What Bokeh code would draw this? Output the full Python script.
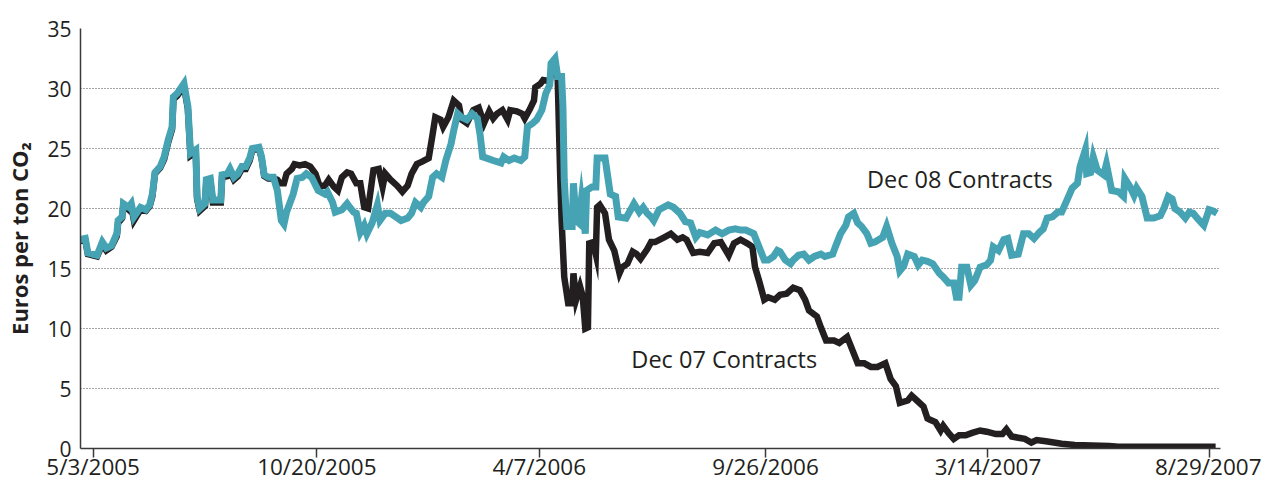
from bokeh.plotting import figure
from bokeh.models import Range1d, FixedTicker, Label
from bokeh.embed import file_html
from bokeh.resources import INLINE

# x values: calendar days after 5/3/2005
dec08_days = [-10, -6, -4, 3, 7, 10, 14, 18, 19, 22, 23, 27, 29, 31, 36, 40, 43, 45, 47, 51,
              54, 57, 60, 61, 64, 69, 72, 74, 78, 79, 81, 85, 86, 89, 91, 97, 98, 102, 104, 107,
              110, 113, 116, 119, 121, 126, 128, 130, 133, 137, 140, 143, 145, 147, 152, 155, 159, 162, 166, 171,
              176, 178, 182, 184, 189, 193, 195, 198, 200, 203, 206, 208, 212, 216, 218, 222, 226, 230, 234, 239,
              242, 245, 249, 251, 255, 258, 261, 265, 268, 272, 274, 277, 280, 284, 288, 292, 294, 296, 299, 304,
              310, 312, 316, 320, 325, 328, 330, 334, 337, 341, 344, 347, 348, 351, 353, 356, 357, 358, 360, 364,
              365, 367, 369, 371, 374, 375, 379, 382, 383, 389, 393, 397, 399, 405, 407, 411, 415, 418, 421, 424,
              426, 430, 437, 441, 446, 450, 454, 458, 461, 467, 473, 478, 483, 488, 492, 496, 502, 506, 510, 513,
              517, 520, 522, 526, 530, 532, 536, 540, 544, 548, 553, 556, 562, 564, 568, 572, 574, 578, 581, 584,
              588, 591, 594, 600, 603, 607, 611, 613, 616, 619, 624, 627, 630, 634, 638, 643, 646, 650, 654, 656,
              658, 660, 664, 667, 670, 674, 679, 682, 684, 688, 692, 695, 698, 703, 707, 711, 715, 719, 722, 725,
              729, 733, 736, 740, 744, 748, 750, 754, 755, 758, 760, 763, 768, 770, 774, 779, 783, 784, 788, 791,
              793, 797, 801, 806, 811, 814, 817, 820, 822, 826, 830, 833, 836, 839, 844, 848, 851, 854]
dec08_price = [17.4, 17.5, 16.3, 16.1, 17.2, 16.7, 16.9, 17.9, 19.0, 19.3, 20.4, 20.1, 20.4, 19.3, 20.1, 19.9, 20.3, 21.2, 23.0, 23.5,
               24.3, 25.7, 26.8, 29.3, 29.6, 30.4, 28.5, 24.6, 24.9, 21.0, 20.0, 20.4, 22.4, 22.5, 20.7, 20.7, 22.8, 22.9, 23.3, 22.6,
               22.9, 23.5, 23.5, 24.2, 25.0, 25.1, 24.3, 22.8, 22.6, 22.6, 21.5, 19.0, 18.7, 19.7, 21.2, 22.5, 22.6, 22.9, 22.6, 21.5,
               21.2, 21.4, 20.5, 19.7, 19.9, 20.4, 20.1, 19.7, 19.6, 18.0, 18.6, 17.9, 18.8, 20.3, 19.0, 19.6, 19.6, 19.3, 19.0, 19.2,
               19.6, 20.5, 20.1, 20.5, 21.0, 22.6, 22.9, 22.6, 24.0, 25.4, 26.5, 27.9, 27.6, 27.4, 27.9, 27.5, 26.2, 24.3, 24.2, 24.0,
               23.8, 24.3, 24.0, 24.2, 24.0, 24.3, 26.8, 27.1, 27.4, 28.2, 29.6, 30.3, 32.1, 32.5, 31.0, 31.0, 28.5, 22.4, 18.5, 18.5,
               22.1, 19.0, 18.8, 20.7, 17.9, 21.5, 21.8, 21.8, 24.2, 24.2, 21.2, 21.0, 19.3, 19.2, 19.6, 20.4, 19.7, 20.1, 19.6, 19.3,
               19.0, 19.9, 20.3, 20.1, 19.6, 18.9, 18.8, 17.6, 18.0, 17.8, 18.2, 17.9, 18.2, 18.3, 18.2, 18.2, 17.9, 16.8, 15.7, 15.7,
               16.0, 16.5, 16.4, 15.7, 15.4, 15.7, 16.1, 16.2, 15.7, 16.0, 16.2, 16.0, 16.2, 16.8, 17.9, 18.6, 19.3, 19.6, 18.8, 18.5,
               17.9, 17.1, 17.2, 17.6, 18.5, 17.1, 16.0, 14.8, 15.2, 16.2, 16.0, 15.3, 15.7, 15.6, 15.4, 14.6, 14.3, 13.8, 13.8, 12.6,
               12.6, 15.1, 15.1, 13.6, 14.0, 15.1, 15.3, 15.7, 16.8, 16.5, 17.4, 17.5, 16.1, 16.2, 17.9, 17.9, 17.5, 18.0, 18.3, 19.2,
               19.3, 19.7, 19.7, 20.7, 21.7, 22.1, 23.5, 24.9, 22.9, 23.0, 24.3, 23.2, 22.8, 23.7, 21.5, 21.4, 21.0, 22.5, 21.8, 21.1,
               21.7, 21.0, 19.2, 19.2, 19.4, 20.1, 21.0, 20.8, 20.0, 19.7, 19.2, 19.7, 19.6, 19.2, 18.6, 19.9, 19.8, 19.6]

dec07_days = [-10, -6, -4, 3, 7, 10, 14, 18, 19, 22, 23, 27, 29, 31, 36, 40, 43, 45, 47, 51,
              54, 57, 60, 61, 64, 69, 72, 74, 78, 79, 81, 85, 86, 89, 91, 97, 98, 102, 104, 107,
              110, 113, 116, 119, 121, 126, 128, 130, 133, 137, 140, 142, 145, 147, 151, 153, 157, 161, 165, 169,
              172, 176, 179, 183, 186, 189, 193, 196, 200, 203, 206, 209, 213, 217, 220, 222, 226, 231, 235, 239,
              242, 246, 250, 255, 258, 260, 264, 266, 270, 274, 278, 280, 284, 289, 293, 297, 301, 304, 307, 311,
              315, 317, 322, 326, 328, 332, 335, 336, 340, 342, 347, 349, 351, 353, 355, 356, 358, 361, 364, 365,
              367, 370, 372, 374, 376, 377, 380, 382, 383, 385, 389, 392, 396, 400, 402, 406, 410, 413, 416, 421,
              424, 427, 434, 439, 444, 448, 451, 456, 461, 467, 472, 477, 483, 487, 492, 497, 501, 503, 506, 510,
              513, 518, 522, 527, 532, 537, 541, 544, 550, 553, 557, 563, 567, 573, 577, 581, 586, 591, 596, 602,
              606, 610, 613, 619, 622, 626, 631, 634, 636, 640, 644, 646, 650, 654, 658, 663, 668, 674, 679, 686,
              691, 694, 698, 703, 708, 713, 717, 724, 730, 736, 746, 759, 772, 779, 797, 815, 835, 853]
dec07_price = [17.3, 17.4, 16.2, 16.0, 17.0, 16.5, 16.8, 17.7, 18.8, 19.2, 20.3, 19.9, 20.2, 19.0, 19.9, 19.8, 20.2, 21.0, 22.9, 23.4,
               24.1, 25.5, 26.6, 29.1, 29.4, 30.2, 28.3, 24.4, 24.7, 20.8, 19.8, 20.2, 22.2, 22.3, 20.5, 20.5, 22.6, 22.7, 23.1, 22.4,
               22.7, 23.3, 23.3, 24.0, 24.9, 25.0, 24.2, 22.7, 22.5, 22.5, 22.4, 22.1, 22.1, 22.9, 23.3, 23.7, 23.6, 23.7, 23.5, 22.9,
               21.9, 21.9, 22.4, 21.8, 21.5, 22.6, 23.0, 22.9, 22.1, 22.1, 20.1, 20.0, 23.2, 23.3, 21.8, 22.9, 22.4, 21.9, 21.4, 21.9,
               22.9, 23.7, 23.9, 24.2, 26.2, 27.6, 27.4, 26.8, 27.6, 29.0, 28.6, 27.4, 27.1, 28.2, 28.4, 27.1, 28.1, 27.5, 27.9, 28.2,
               27.4, 28.2, 28.1, 27.9, 27.5, 28.3, 29.0, 30.1, 30.4, 30.7, 30.6, 32.0, 32.2, 30.9, 22.4, 19.0, 14.3, 12.1, 12.1, 14.6,
               12.4, 13.5, 12.7, 10.0, 10.1, 17.1, 17.2, 16.2, 20.1, 20.3, 19.6, 17.4, 16.5, 14.6, 15.1, 15.4, 16.4, 16.2, 15.8, 16.6,
               17.2, 17.2, 17.6, 17.9, 17.4, 17.6, 17.4, 16.3, 16.4, 16.3, 17.1, 17.2, 16.1, 17.1, 17.4, 17.1, 16.8, 15.1, 14.0, 12.4,
               12.6, 12.4, 12.8, 12.9, 13.4, 13.2, 12.4, 11.5, 11.0, 10.1, 9.0, 9.0, 8.8, 9.3, 8.2, 7.1, 7.1, 6.8, 6.8, 7.1,
               5.8, 5.2, 3.8, 4.0, 4.4, 4.0, 3.5, 2.5, 2.4, 2.2, 1.5, 1.9, 1.3, 0.8, 1.1, 1.1, 1.3, 1.5, 1.4, 1.2,
               1.2, 1.6, 1.0, 0.9, 0.8, 0.5, 0.7, 0.6, 0.5, 0.4, 0.3, 0.25, 0.2, 0.15, 0.15, 0.15, 0.15, 0.15]

tick_days = [0, 170, 339, 511, 680, 848]
tick_labels = ["5/3/2005", "10/20/2005", "4/7/2006", "9/26/2006", "3/14/2007", "8/29/2007"]
y_ticks = [0, 5, 10, 15, 20, 25, 30, 35]

FONT = "Open Sans"
INK = "#231f20"
TEAL = "#45a3b4"

p = figure(width=1261, height=485, output_backend="svg", toolbar_location=None,
           x_range=Range1d(-9.6, 856.7), y_range=Range1d(0, 35),
           min_border_left=80, min_border_right=41, min_border_top=28, min_border_bottom=37)
p.outline_line_color = None
p.background_fill_color = "white"
p.border_fill_color = "white"

p.xgrid.visible = False
p.ygrid.ticker = FixedTicker(ticks=y_ticks[1:])
p.ygrid.grid_line_color = "#4a4a4a"
p.ygrid.grid_line_dash = "1 2"
p.ygrid.grid_line_width = 1.2

xa = p.xaxis[0]
xa.ticker = FixedTicker(ticks=tick_days)
xa.major_label_overrides = {d: s for d, s in zip(tick_days, tick_labels)}
xa.major_tick_out = 9
xa.major_tick_in = 0
xa.minor_tick_out = 0
xa.minor_tick_in = 0
xa.major_label_standoff = -7
xa.axis_line_color = "#3a3a3a"
xa.axis_line_width = 1.5
xa.major_tick_line_color = "#3a3a3a"
xa.major_tick_line_width = 1.5
xa.major_label_text_font = FONT
xa.major_label_text_font_size = "22.5px"
xa.major_label_text_color = INK

ya = p.yaxis[0]
ya.ticker = FixedTicker(ticks=y_ticks)
ya.major_tick_out = 0
ya.major_tick_in = 0
ya.minor_tick_out = 0
ya.minor_tick_in = 0
ya.major_label_standoff = 9
ya.axis_line_color = "#3a3a3a"
ya.axis_line_width = 1.5
ya.major_label_text_font = FONT
ya.major_label_text_font_size = "21px"
ya.major_label_text_color = INK
ya.axis_label = "Euros per ton CO\u2082"
ya.axis_label_text_font = FONT
ya.axis_label_text_font_style = "bold"
ya.axis_label_text_font_size = "22px"
ya.axis_label_text_color = INK
ya.axis_label_standoff = 10

p.line(dec07_days, dec07_price, line_color=INK, line_width=6.5, line_join="miter")
p.line(dec08_days, dec08_price, line_color=TEAL, line_width=7, line_join="miter")

p.add_layout(Label(x=588, y=22.5, text="Dec 08 Contracts", text_baseline="middle", text_align="left",
                   text_font=FONT, text_font_size="23.5px", text_color=INK))
p.add_layout(Label(x=409, y=7.5, text="Dec 07 Contracts", text_baseline="middle", text_align="left",
                   text_font=FONT, text_font_size="23.5px", text_color=INK))

open("out.html", "w").write(file_html(p, INLINE))
